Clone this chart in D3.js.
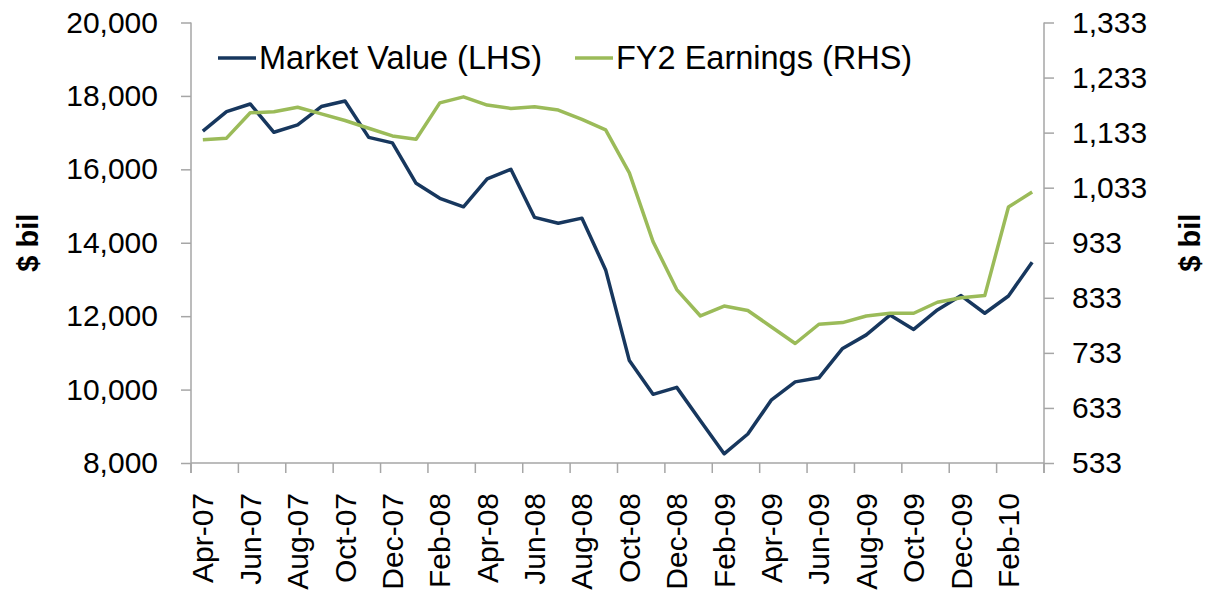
<!DOCTYPE html>
<html>
<head>
<meta charset="utf-8">
<script src="https://cdn.jsdelivr.net/npm/d3@7"></script>
<style>
  body { margin: 0; background: #fff; }
  text { font-family: "Liberation Sans", Arial, sans-serif; fill: #000; }
</style>
</head>
<body>
<svg id="chart" width="1207" height="602"></svg>
<script>
// monthly, Apr-07 .. Mar-10
var months = ['Apr-07','May-07','Jun-07','Jul-07','Aug-07','Sep-07','Oct-07','Nov-07','Dec-07',
  'Jan-08','Feb-08','Mar-08','Apr-08','May-08','Jun-08','Jul-08','Aug-08','Sep-08','Oct-08','Nov-08','Dec-08',
  'Jan-09','Feb-09','Mar-09','Apr-09','May-09','Jun-09','Jul-09','Aug-09','Sep-09','Oct-09','Nov-09','Dec-09',
  'Jan-10','Feb-10','Mar-10'];

var marketValue = [17040, 17570, 17780, 17010, 17210, 17710, 17860, 16870, 16720,
  15620, 15210, 14980, 15740, 16000, 14690, 14530, 14670, 13260, 10790, 9870, 10060,
  9150, 8250, 8790, 9720, 10210, 10320, 11120, 11490, 12030, 11640, 12170, 12560,
  12080, 12550, 13470];

var fy2Earnings = [1120, 1123, 1169, 1171, 1179, 1167, 1155, 1141, 1127,
  1121, 1187, 1198, 1183, 1177, 1180, 1174, 1157, 1138, 1060, 935, 848,
  800, 818, 810, 780, 750, 785, 788, 800, 805, 805, 825, 833,
  837, 998, 1025];

var leftTicks = [8000, 10000, 12000, 14000, 16000, 18000, 20000];
var rightTicks = [533, 633, 733, 833, 933, 1033, 1133, 1233, 1333];

var seriesNames = ['Market Value (LHS)', 'FY2 Earnings (RHS)'];
var seriesColors = ['#17375E', '#9BBB59'];

var plotLeft = 191, plotRight = 1044, plotTop = 22.5, plotBottom = 463;
var axisColor = '#A6A6A6';

var svg = d3.select('#chart');

var x = d3.scaleBand()
  .domain(months)
  .range([plotLeft, plotRight]);

var yL = d3.scaleLinear().domain([8000, 20000]).range([plotBottom, plotTop]);
var yR = d3.scaleLinear().domain([533, 1333]).range([plotBottom, plotTop]);

// left axis
var gL = svg.append('g').attr('transform', 'translate(' + plotLeft + ',0)')
  .call(d3.axisLeft(yL).tickValues(leftTicks).tickSize(10).tickPadding(23).tickFormat(d3.format(',')));

// right axis
var gR = svg.append('g').attr('transform', 'translate(' + plotRight + ',0)')
  .call(d3.axisRight(yR).tickValues(rightTicks).tickSize(10).tickPadding(18).tickFormat(d3.format(',')));

[gL, gR].forEach(function(g) {
  g.select('.domain').attr('stroke', axisColor).attr('stroke-width', 1.5)
    .attr('d', 'M0,' + plotTop + 'V' + (plotBottom + 10));
  g.selectAll('.tick line').attr('stroke', axisColor).attr('stroke-width', 1.5);
  g.selectAll('.tick text').style('font-size', '30px').attr('fill', '#000');
});

// x axis: ticks between every 2 categories
var xTicks = d3.range(0, months.length + 1, 2);
var gX = svg.append('g');
gX.append('line')
  .attr('x1', plotLeft).attr('x2', plotRight)
  .attr('y1', plotBottom).attr('y2', plotBottom)
  .attr('stroke', axisColor).attr('stroke-width', 1.5);
gX.selectAll('line.tk').data(xTicks).enter().append('line')
  .attr('class', 'tk')
  .attr('x1', function(d) { return plotLeft + d * x.step(); })
  .attr('x2', function(d) { return plotLeft + d * x.step(); })
  .attr('y1', plotBottom).attr('y2', plotBottom + 10)
  .attr('stroke', axisColor).attr('stroke-width', 1.5);

gX.selectAll('text').data(months.filter(function(d, i) { return i % 2 === 0; })).enter()
  .append('text')
  .attr('transform', function(d) {
    return 'translate(' + (x(d) + x.bandwidth() / 2) + ',' + (plotBottom + 30) + ') rotate(-90)';
  })
  .attr('text-anchor', 'end')
  .attr('dy', '0.35em')
  .style('font-size', '30px')
  .text(function(d) { return d; });

// axis titles
svg.append('text')
  .attr('transform', 'translate(28,' + ((plotTop + plotBottom) / 2) + ') rotate(-90)')
  .attr('text-anchor', 'middle').attr('dy', '0.35em')
  .style('font-size', '29px').style('font-weight', 'bold')
  .text('$ bil');
svg.append('text')
  .attr('transform', 'translate(1190,' + ((plotTop + plotBottom) / 2) + ') rotate(-90)')
  .attr('text-anchor', 'middle').attr('dy', '0.35em')
  .style('font-size', '29px').style('font-weight', 'bold')
  .text('$ bil');

// lines
var lineL = d3.line()
  .x(function(d, i) { return x(months[i]) + x.bandwidth() / 2; })
  .y(function(d) { return yL(d); });
var lineR = d3.line()
  .x(function(d, i) { return x(months[i]) + x.bandwidth() / 2; })
  .y(function(d) { return yR(d); });

svg.append('path').datum(marketValue)
  .attr('d', lineL)
  .attr('fill', 'none')
  .attr('stroke', seriesColors[0])
  .attr('stroke-width', 3.5)
  .attr('stroke-linejoin', 'round');

svg.append('path').datum(fy2Earnings)
  .attr('d', lineR)
  .attr('fill', 'none')
  .attr('stroke', seriesColors[1])
  .attr('stroke-width', 3.5)
  .attr('stroke-linejoin', 'round');

// legend
var legendX = [218, 575];
var legend = svg.selectAll('g.legend').data(seriesNames).enter()
  .append('g').attr('class', 'legend')
  .attr('transform', function(d, i) { return 'translate(' + legendX[i] + ',58)'; });
legend.append('line')
  .attr('x1', 0).attr('x2', 38).attr('y1', 0).attr('y2', 0)
  .attr('stroke', function(d, i) { return seriesColors[i]; })
  .attr('stroke-width', 3.5);
legend.append('text')
  .attr('x', 41).attr('y', 11)
  .style('font-size', '32.5px')
  .text(function(d) { return d; });
</script>
</body>
</html>
